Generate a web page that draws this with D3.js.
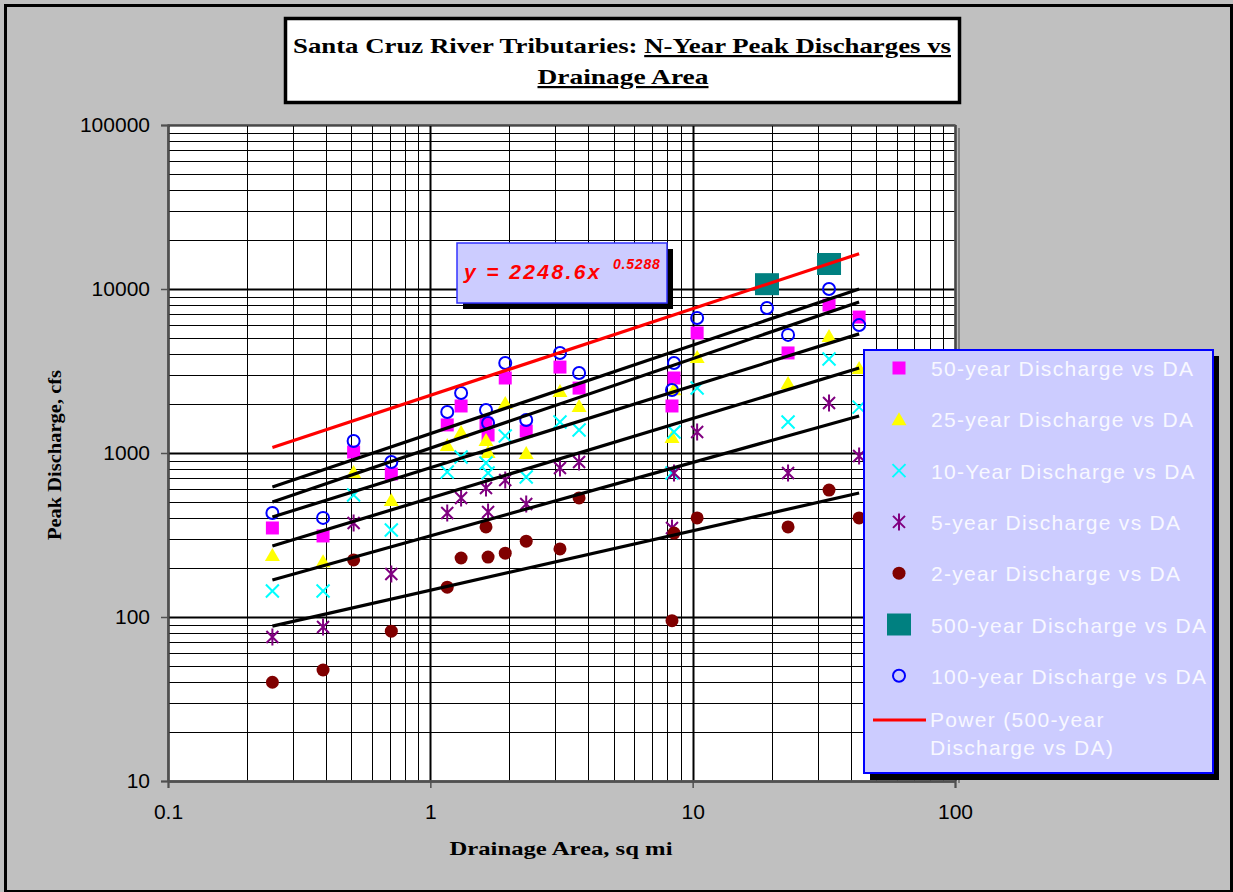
<!DOCTYPE html>
<html>
<head>
<meta charset="utf-8">
<script src="https://cdn.jsdelivr.net/npm/d3@7"></script>
<style>
  body { margin: 0; background: #fff; }
  svg { display: block; }
</style>
</head>
<body>
<svg id="chart" width="1233" height="892"></svg>
<script>
// Drainage area of each site, sq mi
const siteArea = [0.25, 0.39, 0.51, 0.71, 1.16, 1.31, 1.63, 1.66, 1.93, 2.32, 3.12, 3.69, 8.34, 8.49, 10.4, 19.2, 23.1, 33.1, 43.1];

// Peak discharges, cfs (null = no value at that site)
const q50  = [349, 312, 1014, 745, 1483, 1935, 1519, 1288, 2866, 1361, 3342, 2488, 1935, 2866, 5395, null, 4074, 7980, 6745];
const q25  = [239, 219, 766, 517, 1119, 1343, 1200, 1014, 2018, 1000, 2388, 1935, 1253, 2450, 3846, null, 2674, 5165, 3296];
const q10  = [144, 144, 555, 339, 766, 946, 869, 755, 1271, 714, 1545, 1380, 755, 1343, 2490, null, 1545, 3741, 1905];
const q5   = [75.5, 87, 374, 183, 431, 532, 612, 437, 684, 489, 811, 881, 349, 755, 1343, null, 755, 2018, 959];
const q2   = [40, 47.5, 223, 82, 152, 229, 354, 232, 245, 290, 260, 532, 95, 325, 402, null, 354, 594, 402];
const q500 = [null, null, null, null, null, null, null, null, null, null, null, null, null, null, null, 10700, null, 14200, null];
const q100 = [431, 402, 1183, 881, 1778, 2323, 1828, 1524, 3540, 1589, 4074, 3076, 2421, 3540, 6653, 7656, 5250, 10000, 6026];

// Trendline end points as drawn
const trendArea = [0.25, 43.1];
const trendQ500 = [1080, 16400];
const trendQ100 = [621, 10000];
const trendQ50  = [503, 8340];
const trendQ25  = [407, 5325];
const trendQ10  = [271, 3296];
const trendQ5   = [168, 1683];
const trendQ2   = [88, 570];

const xTickValues = [0.1, 1, 10, 100];
const yTickValues = [10, 100, 1000, 10000, 100000];

const legendLabels = [
  '50-year Discharge vs DA',
  '25-year Discharge vs DA',
  '10-Year Discharge vs DA',
  '5-year Discharge vs DA',
  '2-year Discharge vs DA',
  '500-year Discharge vs DA',
  '100-year Discharge vs DA'
];
const powerLabel = ['Power (500-year', 'Discharge vs DA)'];
const equationMain = 'y = 2248.6x';
const equationExp = '0.5288';

// series in Excel drawing order
const series = [
  {values: q50,  kind: 'square'},
  {values: q25,  kind: 'triangle'},
  {values: q10,  kind: 'x'},
  {values: q5,   kind: 'star'},
  {values: q2,   kind: 'dot'},
  {values: q500, kind: 'bigsquare'},
  {values: q100, kind: 'circle'}
];

const svg = d3.select('#chart');
const W = 1233, H = 892;

// chart background + outer border
svg.append('rect').attr('x', 0).attr('y', 0).attr('width', W).attr('height', H).attr('fill', '#c0c0c0');
svg.append('rect').attr('x', 5.5).attr('y', 5.5).attr('width', 1226).attr('height', 886)
  .attr('fill', 'none').attr('stroke', '#000').attr('stroke-width', 3);

const x = d3.scaleLog().domain([0.1, 100]).range([168, 955]);
const y = d3.scaleLog().domain([10, 100000]).range([781, 125]);

// plot area
const plot = svg.append('g');
plot.append('rect')
  .attr('x', 958).attr('y', 128).attr('width', 2).attr('height', 655)
  .attr('fill', '#808080');
plot.append('rect')
  .attr('x', x.range()[0]).attr('y', y.range()[1])
  .attr('width', x.range()[1] - x.range()[0]).attr('height', y.range()[0] - y.range()[1])
  .attr('fill', '#fff');

function isMajor(v) {
  return Math.abs(Math.log10(v) - Math.round(Math.log10(v))) < 1e-6;
}

// gridlines
plot.append('g').selectAll('line')
  .data(x.ticks())
  .enter().append('line')
    .attr('x1', d => Math.round(x(d)) + 0.5).attr('x2', d => Math.round(x(d)) + 0.5)
    .attr('y1', y.range()[1]).attr('y2', y.range()[0])
    .attr('stroke', '#000')
    .attr('stroke-width', d => isMajor(d) ? 2 : 1);

plot.append('g').selectAll('line')
  .data(y.ticks())
  .enter().append('line')
    .attr('y1', d => Math.round(y(d)) + 0.5).attr('y2', d => Math.round(y(d)) + 0.5)
    .attr('x1', x.range()[0]).attr('x2', x.range()[1])
    .attr('stroke', '#000')
    .attr('stroke-width', d => isMajor(d) ? 2 : 1);

plot.append('rect')
  .attr('x', x.range()[0]).attr('y', y.range()[1])
  .attr('width', x.range()[1] - x.range()[0]).attr('height', y.range()[0] - y.range()[1])
  .attr('fill', 'none').attr('stroke', '#606060').attr('stroke-width', 1.5);

// axes
const xAxis = svg.append('g')
  .attr('transform', 'translate(0,' + y.range()[0] + ')')
  .call(d3.axisBottom(x).tickValues(xTickValues).tickFormat(d3.format('')).tickSize(7).tickPadding(16));
const yAxis = svg.append('g')
  .attr('transform', 'translate(' + x.range()[0] + ',0)')
  .call(d3.axisLeft(y).tickValues(yTickValues).tickFormat(d3.format('d')).tickSize(7).tickPadding(11));

[xAxis, yAxis].forEach(function(a) {
  a.select('.domain').attr('stroke', '#505050').attr('stroke-width', 2);
  a.selectAll('.tick line').attr('stroke', '#505050').attr('stroke-width', 1.5);
  a.selectAll('text')
    .attr('fill', '#000')
    .style('font-family', 'Arial, "Liberation Sans", sans-serif')
    .style('font-size', '21px');
});

// markers
function markerPath(kind) {
  switch (kind) {
    case 'square': return 'M-6.5,-6.5h13v13h-13z';
    case 'bigsquare': return 'M-12,-11h24v22h-24z';
    case 'triangle': return 'M0,-7L7.5,6L-7.5,6Z';
    case 'x': return 'M-6.5,-6.5L6.5,6.5M-6.5,6.5L6.5,-6.5';
    case 'star': return 'M-6,-6L6,6M-6,6L6,-6M0,-8.5V8.5';
  }
  return null;
}

function drawMarker(g, kind) {
  if (kind === 'circle') {
    g.append('circle').attr('r', 6).attr('fill', 'none').attr('stroke', '#0000ff').attr('stroke-width', 2);
  } else if (kind === 'dot') {
    g.append('circle').attr('r', 6.5).attr('fill', '#800000');
  } else {
    const p = g.append('path').attr('d', markerPath(kind));
    if (kind === 'square') p.attr('fill', '#ff00ff');
    if (kind === 'bigsquare') p.attr('fill', '#008080');
    if (kind === 'triangle') p.attr('fill', '#ffff00');
    if (kind === 'x') p.attr('fill', 'none').attr('stroke', '#00ffff').attr('stroke-width', 2);
    if (kind === 'star') p.attr('fill', 'none').attr('stroke', '#800080').attr('stroke-width', 2);
  }
}

const pointsLayer = svg.append('g');
series.forEach(function(s) {
  const pts = siteArea.map((a, i) => ({a: a, q: s.values[i]})).filter(d => d.q != null);
  pointsLayer.append('g').selectAll('g')
    .data(pts)
    .enter().append('g')
      .attr('transform', d => 'translate(' + x(d.a) + ',' + y(d.q) + ')')
      .each(function() { drawMarker(d3.select(this), s.kind); });
});

// trendlines
const line = d3.line()
  .x(d => x(d[0]))
  .y(d => y(d[1]));

[trendQ100, trendQ50, trendQ25, trendQ10, trendQ5, trendQ2].forEach(function(t) {
  svg.append('path')
    .attr('d', line(trendArea.map((a, i) => [a, t[i]])))
    .attr('fill', 'none').attr('stroke', '#000').attr('stroke-width', 3.2);
});
svg.append('path')
  .attr('d', line(trendArea.map((a, i) => [a, trendQ500[i]])))
  .attr('fill', 'none').attr('stroke', '#ff0000').attr('stroke-width', 3.2);

// equation label
const eq = svg.append('g');
eq.append('rect').attr('x', 463).attr('y', 249).attr('width', 210).attr('height', 60).attr('fill', '#000');
eq.append('rect').attr('x', 457).attr('y', 243).attr('width', 210).attr('height', 60)
  .attr('fill', '#ccccff').attr('stroke', '#3333ff').attr('stroke-width', 1.5);
eq.append('text')
  .attr('x', 464).attr('y', 279)
  .attr('fill', '#ff0000')
  .attr('letter-spacing', 2.4)
  .style('font-family', 'Arial, "Liberation Sans", sans-serif')
  .style('font-size', '21px').style('font-weight', 'bold').style('font-style', 'italic')
  .text(equationMain);
eq.append('text')
  .attr('x', 613).attr('y', 269)
  .attr('fill', '#ff0000')
  .attr('letter-spacing', 0.8)
  .style('font-family', 'Arial, "Liberation Sans", sans-serif')
  .style('font-size', '14px').style('font-weight', 'bold').style('font-style', 'italic')
  .text(equationExp);

// legend
const lg = svg.append('g');
lg.append('rect').attr('x', 870).attr('y', 356).attr('width', 349).attr('height', 424).attr('fill', '#000');
lg.append('rect').attr('x', 864).attr('y', 350).attr('width', 349).attr('height', 423)
  .attr('fill', '#ccccff').attr('stroke', '#0000ff').attr('stroke-width', 2);

const rowY = d3.scaleLinear().domain([0, 1]).range([368, 419.3]);
const legendFont = 'Arial, "Liberation Sans", sans-serif';

series.forEach(function(s, i) {
  const g = lg.append('g').attr('transform', 'translate(899,' + rowY(i) + ')');
  drawMarker(g, s.kind);
  lg.append('text')
    .attr('x', 931).attr('y', rowY(i) + 8)
    .attr('fill', '#f8f8ff')
    .attr('letter-spacing', 1.3)
    .style('font-family', legendFont).style('font-size', '21px')
    .text(legendLabels[i]);
});

lg.append('line')
  .attr('x1', 873).attr('x2', 926)
  .attr('y1', rowY(7) - 7).attr('y2', rowY(7) - 7)
  .attr('stroke', '#ff0000').attr('stroke-width', 3);
powerLabel.forEach(function(t, i) {
  lg.append('text')
    .attr('x', 930).attr('y', rowY(7) + i * 28)
    .attr('fill', '#f8f8ff')
    .attr('letter-spacing', 1.3)
    .style('font-family', legendFont).style('font-size', '21px')
    .text(t);
});

// title
const title = svg.append('g');
title.append('rect').attr('x', 285.5).attr('y', 18.5).attr('width', 674).attr('height', 84)
  .attr('fill', '#fff').attr('stroke', '#000').attr('stroke-width', 3.5);
const t1 = title.append('text')
  .attr('x', 622).attr('y', 53)
  .attr('text-anchor', 'middle')
  .attr('textLength', 658).attr('lengthAdjust', 'spacingAndGlyphs')
  .style('font-family', '"Times New Roman", "Liberation Serif", serif')
  .style('font-size', '22px').style('font-weight', 'bold');
t1.append('tspan').text('Santa Cruz River Tributaries: ');
t1.append('tspan').style('text-decoration', 'underline').text('N-Year Peak Discharges vs');
title.append('text')
  .attr('x', 623).attr('y', 84)
  .attr('text-anchor', 'middle')
  .attr('textLength', 171).attr('lengthAdjust', 'spacingAndGlyphs')
  .style('font-family', '"Times New Roman", "Liberation Serif", serif')
  .style('font-size', '22px').style('font-weight', 'bold')
  .style('text-decoration', 'underline')
  .text(' Drainage Area');

// axis titles
svg.append('text')
  .attr('x', 561).attr('y', 855)
  .attr('text-anchor', 'middle')
  .attr('textLength', 223).attr('lengthAdjust', 'spacingAndGlyphs')
  .style('font-family', '"Times New Roman", "Liberation Serif", serif')
  .style('font-size', '19px').style('font-weight', 'bold')
  .text('Drainage Area, sq mi');

svg.append('text')
  .attr('transform', 'translate(61,455) rotate(-90)')
  .attr('text-anchor', 'middle')
  .attr('textLength', 170).attr('lengthAdjust', 'spacingAndGlyphs')
  .style('font-family', '"Times New Roman", "Liberation Serif", serif')
  .style('font-size', '18px').style('font-weight', 'bold')
  .text('Peak Discharge, cfs');
</script>
</body>
</html>
